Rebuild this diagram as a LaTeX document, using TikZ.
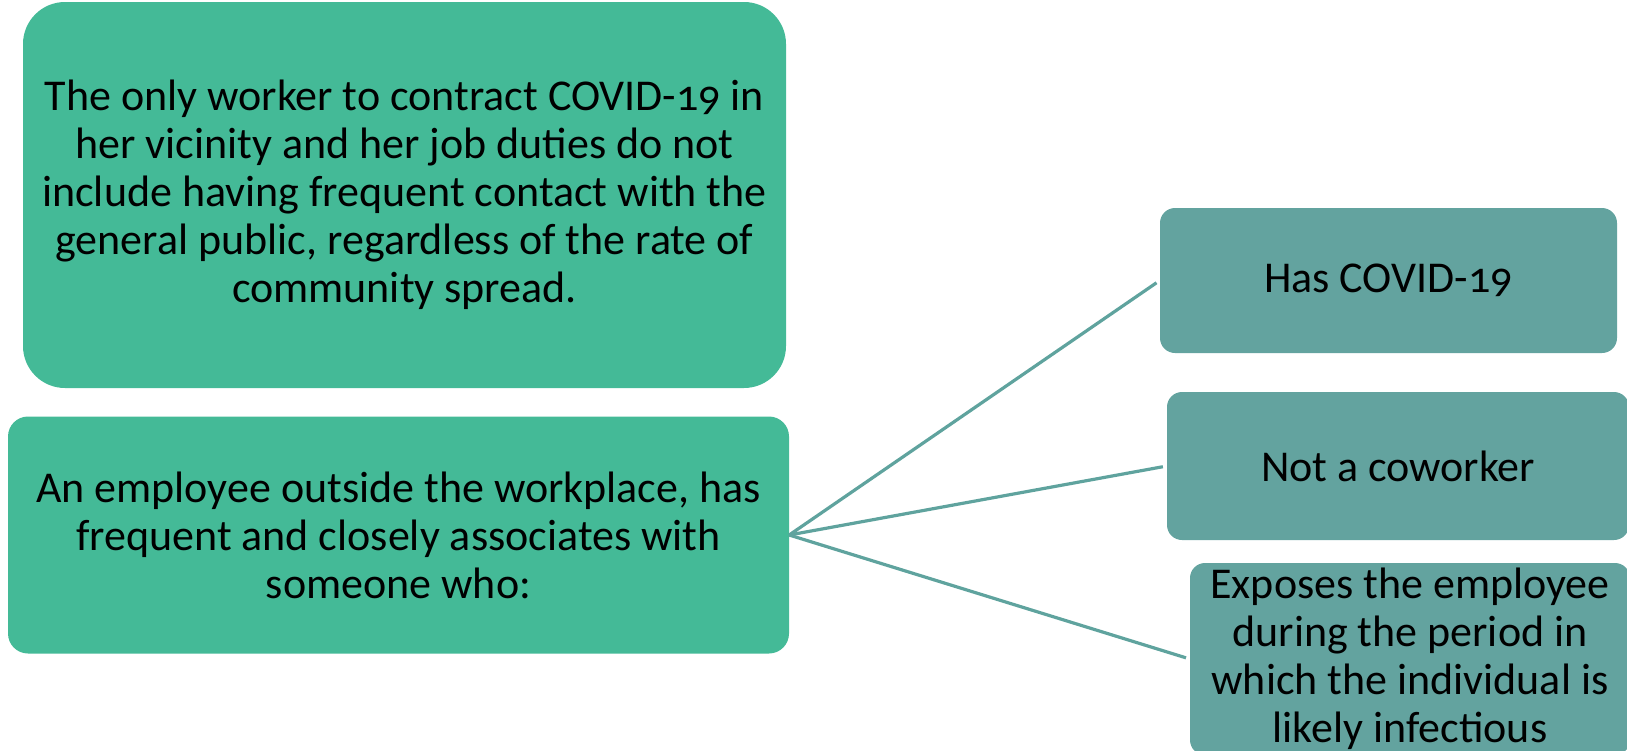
\documentclass[tikz,border=0pt]{standalone}
\usepackage{fontspec}
\setmainfont{Carlito}[Numbers=OldStyle]
\definecolor{boxgreen}{RGB}{68,186,151}
\definecolor{boxteal}{RGB}{99,163,159}
\definecolor{linkteal}{RGB}{95,163,158}
\begin{document}
\begin{tikzpicture}[x=1pt, y=-1pt,
  greenbox/.style={fill=boxgreen, align=center, inner sep=0pt, font=\fontsize{44}{48}\selectfont},
  tealbox/.style={fill=boxteal, align=center, inner sep=0pt, rounded corners=15pt, font=\fontsize{44}{48}\selectfont},
  link/.style={draw=linkteal, line width=3.2pt, shorten >=4pt}]
  \useasboundingbox (0,0) rectangle (1627,750);
  \node[greenbox, rounded corners=42pt, minimum width=763pt, minimum height=386pt] (only) at (404.5,195)
    {The only worker to contract COVID-19 in\\her vicinity and her job duties do not\\include having frequent contact with the\\general public, regardless of the rate of\\community spread.};
  \node[greenbox, rounded corners=20pt, minimum width=781pt, minimum height=237pt] (outside) at (398.5,535)
    {An employee outside the workplace, has\\frequent and closely associates with\\someone who:};
  \node[tealbox, minimum width=457pt, minimum height=145pt] (has) at (1388.5,280.5) {Has COVID-19};
  \node[tealbox, minimum width=462pt, minimum height=148pt] (notco) at (1398,466) {Not a coworker};
  \node[tealbox, minimum width=440pt, minimum height=192pt] (exposes) at (1410,659)
    {Exposes the employee\\during the period in\\which the individual is\\likely infectious};
  \draw[link] (outside.east) -- (has.west);
  \draw[link] (outside.east) -- (notco.west);
  \draw[link] (outside.east) -- (exposes.west);
\end{tikzpicture}
\end{document}
